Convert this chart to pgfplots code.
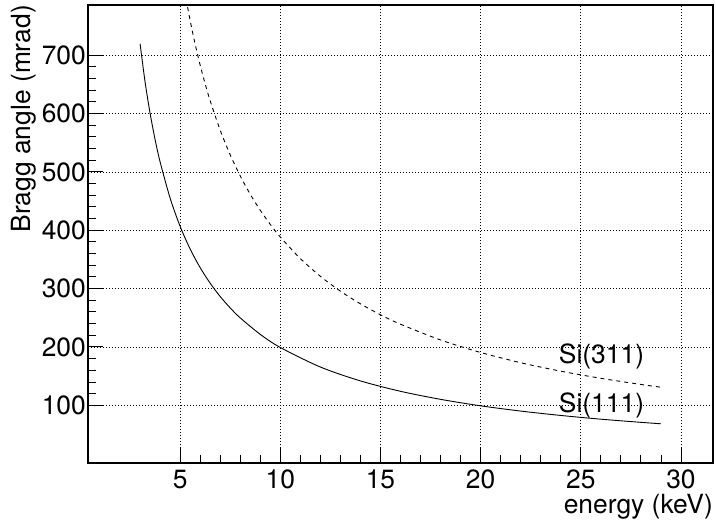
\documentclass[border=0pt]{standalone}
\usepackage{fontspec}
\setmainfont{TeX Gyre Heros}
\usepackage{pgfplots}
\pgfplotsset{compat=1.18}

\begin{document}
\fontsize{26.5}{31}\selectfont
\begin{tikzpicture}
\useasboundingbox (-88bp,-63bp) rectangle (628bp,463bp);
\begin{axis}[
  scale only axis,
  width=625bp, height=458bp,
  at={(0,0)}, anchor=south west,
  xmin=0.4, xmax=31.6,
  ymin=1, ymax=786,
  xtick={5,10,...,30},
  ytick={100,200,...,700},
  minor x tick num=4,
  minor y tick num=4,
  tick pos=left,
  tick align=inside,
  major tick length=15bp,
  minor tick length=8bp,
  tick style={black, line width=0.8bp},
  grid=major,
  major grid style={black, line width=0.7bp, dash pattern=on 1bp off 2bp},
  axis line style={black, line width=1.1bp},
  /pgf/number format/assume math mode=true,
  xticklabel style={anchor=north, inner sep=0pt, yshift=-7bp},
  yticklabel style={anchor=east, inner sep=0pt, xshift=-2bp},
  xlabel={energy (keV)},
  ylabel={Bragg angle (mrad)},
  xlabel style={at={(axis description cs:1,-0.111)}, anchor=base east, inner sep=0pt},
  ylabel style={at={(axis description cs:-0.0912,1)}, anchor=base east, inner sep=0pt},
  clip=true,
]
% Si(111)
\addplot[black, line width=0.9bp, smooth] coordinates {
  (3,719.5) (3.25,653.9) (3.5,600.3) (3.75,555.3) (4,517.0) (4.5,454.9)
  (5,406.5) (5.5,367.7) (6,335.8) (6.5,309.1) (7,286.3) (7.5,266.8)
  (8,249.7) (9,221.5) (10,199.0) (12,165.5) (14,141.7) (16,123.9)
  (18,110.1) (20,99.0) (22,90.0) (24,82.5) (26,76.1) (28,70.7) (29,68.2)
};
% Si(311)
\addplot[black, line width=0.9bp, dash pattern=on 4bp off 4bp, smooth] coordinates {
  (5.3,795.6) (5.5,759.2) (5.75,718.7) (6,682.8) (6.25,650.7) (6.5,621.7)
  (7,571.4) (7.5,529.1) (8,493.0) (8.5,461.6) (9,434.2) (9.5,409.9)
  (10,388.3) (11,351.4) (12,321.0) (13,295.5) (14,273.8) (15,255.1)
  (16,238.9) (18,211.9) (20,190.4) (22,172.9) (24,158.4) (26,146.2)
  (28,135.6) (29,130.9)
};
\node[anchor=base west, inner sep=0pt] at (axis cs:23.9,171) {Si(311)};
\node[anchor=base west, inner sep=0pt] at (axis cs:23.9,86.7) {Si(111)};
\end{axis}
\end{tikzpicture}
\end{document}
